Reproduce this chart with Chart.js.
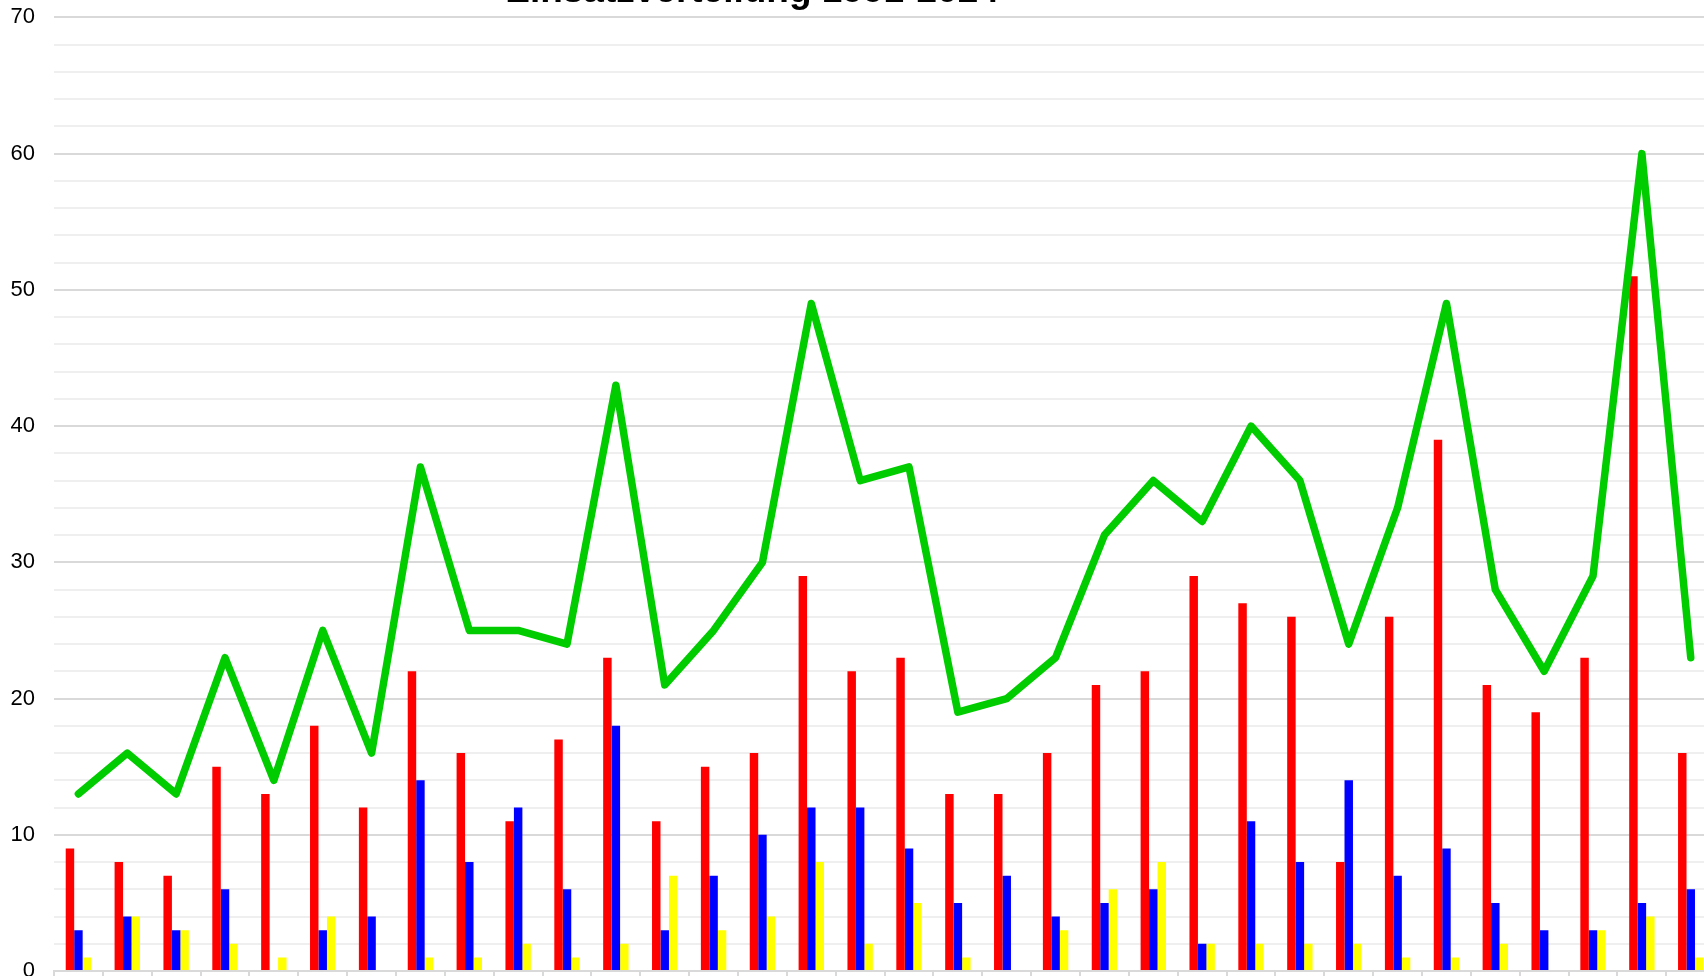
<!DOCTYPE html>
<html lang="de">
<head>
<meta charset="utf-8">
<title>Einsatzverteilung 1991-2024</title>
<script src="https://cdn.jsdelivr.net/npm/chart.js@4.4.1/dist/chart.umd.min.js"></script>
<style>
  html, body { margin: 0; padding: 0; background: #ffffff; overflow: hidden; width: 1704px; height: 976px; }
  #wrap { position: absolute; left: 0; top: -30px; width: 1719px; height: 1051px; }
</style>
</head>
<body>
<div id="wrap"><canvas id="chart"></canvas></div>
<script>
const titleText = 'Einsatzverteilung 1991-2024';
const years = ['1991','1992','1993','1994','1995','1996','1997','1998','1999','2000','2001','2002','2003','2004','2005','2006','2007','2008','2009','2010','2011','2012','2013','2014','2015','2016','2017','2018','2019','2020','2021','2022','2023','2024'];
const seriesNames = ['Brandeinsätze', 'Technische Hilfe', 'Sonstige', 'Gesamt'];
const redValues    = [9, 8, 7, 15, 13, 18, 12, 22, 16, 11, 17, 23, 11, 15, 16, 29, 22, 23, 13, 13, 16, 21, 22, 29, 27, 26, 8, 26, 39, 21, 19, 23, 51, 16];
const blueValues   = [3, 4, 3, 6, 0, 3, 4, 14, 8, 12, 6, 18, 3, 7, 10, 12, 12, 9, 5, 7, 4, 5, 6, 2, 11, 8, 14, 7, 9, 5, 3, 3, 5, 6];
const yellowValues = [1, 4, 3, 2, 1, 4, 0, 1, 1, 2, 1, 2, 7, 3, 4, 8, 2, 5, 1, 0, 3, 6, 8, 2, 2, 2, 2, 1, 1, 2, 0, 3, 4, 1];
const greenValues  = [13, 16, 13, 23, 14, 25, 16, 37, 25, 25, 24, 43, 21, 25, 30, 49, 36, 37, 19, 20, 23, 32, 36, 33, 40, 36, 24, 34, 49, 28, 22, 29, 60, 23];
const yMin = 0, yMax = 70, yStep = 2, yLabelEvery = 10;

const fontFamily = '"Liberation Sans", Arial, Helvetica, sans-serif';

const titleShift = {
  id: 'titleShift',
  afterLayout(chart) {
    const t = chart.titleBlock;
    if (t) { t.left = 0; t.right = 1504; t.width = 1504; }
  }
};

new Chart(document.getElementById('chart'), {
  data: {
    labels: years,
    datasets: [
      {
        type: 'line', label: seriesNames[3], data: greenValues,
        borderColor: '#00cc00', backgroundColor: '#00cc00',
        borderWidth: 7.5, pointRadius: 0, pointHoverRadius: 0,
        borderJoinStyle: 'round', borderCapStyle: 'round',
        tension: 0, fill: false, order: 0
      },
      { type: 'bar', label: seriesNames[0], data: redValues, backgroundColor: '#ff0000', order: 1,
        barPercentage: 1, categoryPercentage: 0.52 },
      { type: 'bar', label: seriesNames[1], data: blueValues, backgroundColor: '#0000ff', order: 1,
        barPercentage: 1, categoryPercentage: 0.52 },
      { type: 'bar', label: seriesNames[2], data: yellowValues, backgroundColor: '#ffff00', order: 1,
        barPercentage: 1, categoryPercentage: 0.52 }
    ]
  },
  options: {
    responsive: true,
    maintainAspectRatio: false,
    animation: false,
    layout: { padding: { left: 0, right: 0, top: 0, bottom: 0 } },
    plugins: {
      legend: { display: false },
      tooltip: { enabled: false },
      title: {
        display: true, text: titleText, color: '#000000',
        font: { family: fontFamily, size: 37, weight: 'bold' },
        padding: { top: 0, bottom: 3 }
      }
    },
    scales: {
      x: {
        type: 'category',
        offset: true,
        afterFit(scale) { scale.height = 50; },
        grid: { display: true, drawOnChartArea: false, offset: true, tickLength: 10, color: '#d9d9d9', lineWidth: 2 },
        border: { display: true, color: '#d9d9d9', width: 2 },
        ticks: { color: '#000000', font: { family: fontFamily, size: 20 }, maxRotation: 0, autoSkip: false, padding: 6 }
      },
      y: {
        min: yMin, max: yMax,
        afterFit(scale) { scale.width = 54; },
        border: { display: false },
        grid: {
          drawTicks: false,
          color: (ctx) => (ctx.tick && ctx.tick.value % yLabelEvery === 0) ? '#d9d9d9' : '#efefef',
          lineWidth: 2
        },
        ticks: {
          stepSize: yStep, autoSkip: false, padding: 19, color: '#000000',
          font: { family: fontFamily, size: 22 },
          callback: (v) => (v % yLabelEvery === 0 ? String(v) : '')
        }
      }
    }
  },
  plugins: [titleShift]
});
</script>
</body>
</html>
